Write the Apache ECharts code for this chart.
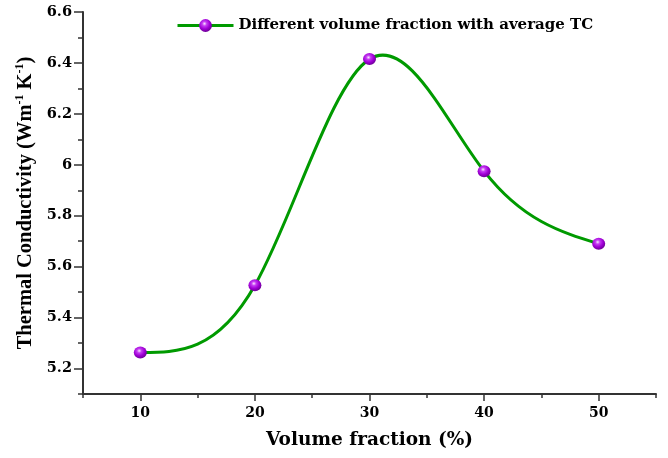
<!DOCTYPE html>
<html>
<head>
<meta charset="utf-8">
<script src="https://cdn.jsdelivr.net/npm/echarts@6/dist/echarts.min.js"></script>
<style>
  html, body { margin: 0; padding: 0; background: #ffffff; }
  #chart { width: 668px; height: 458px; }
</style>
</head>
<body>
<div id="chart"></div>
<script>
// Thermal conductivity measured at each volume fraction
const volumeFraction = [10, 20, 30, 40, 50];
const thermalConductivity = [5.263, 5.527, 6.415, 5.975, 5.690];
const seriesName = 'Different volume fraction with average TC';

// Tick positions
const xMajorTicks = [10, 20, 30, 40, 50];
const xMinorTicks = [5, 15, 25, 35, 45, 55];
const yMajorTicks = [5.2, 5.4, 5.6, 5.8, 6, 6.2, 6.4, 6.6];
const yMinorTicks = [5.1, 5.3, 5.5, 5.7, 5.9, 6.1, 6.3, 6.5];

const axisColor = '#333333';
const textColor = '#000000';
const curveColor = '#009a00';
const wideSerif = '"DejaVu Serif", serif';
const serif = '"Liberation Serif", "Times New Roman", serif';

const sphere = {
  type: 'radial', x: 0.42, y: 0.36, r: 0.62,
  colorStops: [
    { offset: 0, color: '#f8e6ff' },
    { offset: 0.28, color: '#c53cf2' },
    { offset: 0.65, color: '#a000d6' },
    { offset: 1, color: '#72009c' }
  ]
};

const points = volumeFraction.map((v, i) => [v, thermalConductivity[i]]);

// Natural cubic spline through the measured points: returns the slope at each knot
function splineSlopes(xs, ys) {
  const n = xs.length;
  const h = [];
  for (let i = 0; i < n - 1; i++) h.push(xs[i + 1] - xs[i]);
  const M = new Array(n).fill(0);
  if (n > 2) {
    const a = [], b = [], c = [], d = [];
    for (let i = 1; i < n - 1; i++) {
      a.push(h[i - 1]);
      b.push(2 * (h[i - 1] + h[i]));
      c.push(h[i]);
      d.push(6 * ((ys[i + 1] - ys[i]) / h[i] - (ys[i] - ys[i - 1]) / h[i - 1]));
    }
    const m = b.length;
    for (let i = 1; i < m; i++) {
      const w = a[i] / b[i - 1];
      b[i] -= w * c[i - 1];
      d[i] -= w * d[i - 1];
    }
    const sol = new Array(m);
    sol[m - 1] = d[m - 1] / b[m - 1];
    for (let i = m - 2; i >= 0; i--) sol[i] = (d[i] - c[i] * sol[i + 1]) / b[i];
    for (let i = 0; i < m; i++) M[i + 1] = sol[i];
  }
  const s = [];
  for (let i = 0; i < n - 1; i++) {
    s[i] = (ys[i + 1] - ys[i]) / h[i] - h[i] * (2 * M[i] + M[i + 1]) / 6;
  }
  s[n - 1] = (ys[n - 1] - ys[n - 2]) / h[n - 2] + h[n - 2] * (M[n - 2] + 2 * M[n - 1]) / 6;
  return s;
}

const slopes = splineSlopes(volumeFraction, thermalConductivity);

// Draws the spline as cubic Bezier segments, mapped through the axis scales
function renderCurve(params, api) {
  if (params.dataIndex !== 0) return null;
  const xs = volumeFraction, ys = thermalConductivity;
  const p0 = api.coord([xs[0], ys[0]]);
  let d = 'M' + p0[0] + ' ' + p0[1];
  for (let i = 0; i < xs.length - 1; i++) {
    const h = xs[i + 1] - xs[i];
    const c1 = api.coord([xs[i] + h / 3, ys[i] + slopes[i] * h / 3]);
    const c2 = api.coord([xs[i + 1] - h / 3, ys[i + 1] - slopes[i + 1] * h / 3]);
    const p = api.coord([xs[i + 1], ys[i + 1]]);
    d += ' C' + c1[0] + ' ' + c1[1] + ' ' + c2[0] + ' ' + c2[1] + ' ' + p[0] + ' ' + p[1];
  }
  return {
    type: 'path',
    shape: { pathData: d },
    style: { fill: null, stroke: curveColor, lineWidth: 3, lineJoin: 'round', lineCap: 'round' }
  };
}

const chart = echarts.init(document.getElementById('chart'), null, { renderer: 'canvas' });

chart.setOption({
  animation: false,
  backgroundColor: '#ffffff',
  grid: { left: 83, right: 12, top: 12, bottom: 64, containLabel: false },
  legend: {
    left: 171,
    top: 13,
    itemWidth: 56,
    itemHeight: 16,
    itemGap: 5,
    lineStyle: { color: curveColor, width: 3, opacity: 1 },
    textStyle: { fontFamily: wideSerif, fontWeight: 'bold', fontSize: 15, color: textColor },
    data: [seriesName]
  },
  xAxis: [
    {
      type: 'value', min: 5, max: 55, position: 'bottom',
      name: 'Volume fraction (%)', nameLocation: 'middle', nameGap: 37,
      nameTextStyle: { fontFamily: wideSerif, fontWeight: 'bold', fontSize: 18.5, color: textColor },
      axisLine: { show: true, onZero: false, lineStyle: { color: axisColor, width: 2 } },
      axisTick: { show: true, length: 7, lineStyle: { color: axisColor, width: 1.5 }, customValues: xMajorTicks },
      axisLabel: { margin: 12, fontFamily: wideSerif, fontWeight: 'bold', fontSize: 14, color: textColor, customValues: xMajorTicks },
      splitLine: { show: false }
    },
    {
      type: 'value', min: 5, max: 55, position: 'bottom',
      axisLine: { show: false },
      axisTick: { show: true, length: 4, lineStyle: { color: axisColor, width: 1.5 }, customValues: xMinorTicks },
      axisLabel: { show: false },
      splitLine: { show: false }
    }
  ],
  yAxis: [
    {
      type: 'value', min: 5.1, max: 6.6, position: 'left',
      name: '{t|Thermal Conductivity (Wm}{s|-1}{t| K}{s|-1}{t|)}',
      nameLocation: 'middle', nameGap: 45, nameRotate: 90,
      nameTextStyle: {
        rich: {
          t: { fontFamily: serif, fontWeight: 'bold', fontSize: 20.5, color: textColor, lineHeight: 22 },
          s: { fontFamily: serif, fontWeight: 'bold', fontSize: 12, color: textColor, lineHeight: 22, verticalAlign: 'top' }
        }
      },
      axisLine: { show: true, onZero: false, lineStyle: { color: axisColor, width: 2 } },
      axisTick: { show: true, length: 9, lineStyle: { color: axisColor, width: 1.5 }, customValues: yMajorTicks },
      axisLabel: { margin: 11, fontFamily: wideSerif, fontWeight: 'bold', fontSize: 14.5, color: textColor, customValues: yMajorTicks },
      splitLine: { show: false }
    },
    {
      type: 'value', min: 5.1, max: 6.6, position: 'left',
      axisLine: { show: false },
      axisTick: { show: true, length: 5, lineStyle: { color: axisColor, width: 1.5 }, customValues: yMinorTicks },
      axisLabel: { show: false },
      splitLine: { show: false }
    }
  ],
  series: [
    {
      name: 'spline',
      type: 'custom',
      xAxisIndex: 0,
      yAxisIndex: 0,
      data: points,
      renderItem: renderCurve,
      silent: true,
      z: 2
    },
    {
      name: seriesName,
      type: 'line',
      xAxisIndex: 0,
      yAxisIndex: 0,
      data: points,
      symbol: 'circle',
      symbolSize: [13, 12],
      lineStyle: { color: curveColor, width: 3, opacity: 0 },
      itemStyle: { color: sphere, borderWidth: 0 },
      z: 3
    }
  ]
});
</script>
</body>
</html>
